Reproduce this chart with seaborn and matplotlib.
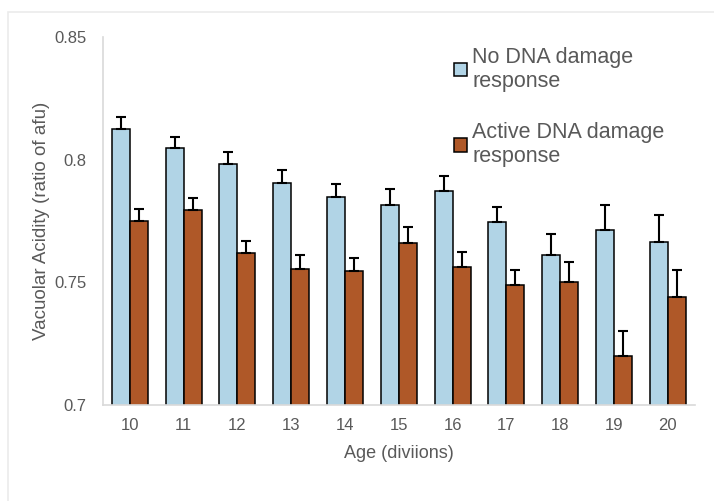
import seaborn as sns
import pandas as pd
import matplotlib.pyplot as plt
from matplotlib.patches import Rectangle

# values
ages = [10, 11, 12, 13, 14, 15, 16, 17, 18, 19, 20]
no_ddr = [0.8125, 0.8048, 0.7982, 0.7905, 0.7848, 0.7815, 0.7872, 0.7746, 0.7611, 0.7713, 0.7665]
no_ddr_err = [0.0049, 0.0045, 0.0049, 0.0053, 0.0053, 0.0065, 0.0062, 0.0061, 0.0088, 0.0102, 0.0110]
active_ddr = [0.7750, 0.7795, 0.7620, 0.7554, 0.7546, 0.7660, 0.7563, 0.7489, 0.7501, 0.7200, 0.7440]
active_ddr_err = [0.0049, 0.0049, 0.0049, 0.0057, 0.0053, 0.0066, 0.0061, 0.0061, 0.0082, 0.0102, 0.0110]

labels = ["No DNA damage\nresponse", "Active DNA damage\nresponse"]
colors = ["#B1D4E6", "#AF5828"]
text_gray = "#595959"

sns.set_style("white")
plt.rcParams['font.family'] = ['Liberation Sans', 'DejaVu Sans']

data = pd.DataFrame({
    "age": [str(a) for a in ages] * 2,
    "value": no_ddr + active_ddr,
    "group": [labels[0]] * len(ages) + [labels[1]] * len(ages),
})

fig = plt.figure(figsize=(7.14, 5.01), dpi=100)
ax = fig.add_axes([0.144, 0.1916, 0.829, 0.7345])

sns.barplot(data=data, x="age", y="value", hue="group", hue_order=labels,
            palette=colors, saturation=1, width=0.67, edgecolor="black",
            linewidth=1.1, errorbar=None, ax=ax)

# upward-only error bars, placed on the bars seaborn drew
for cont, errs in zip(ax.containers, [no_ddr_err, active_ddr_err]):
    xs = [p.get_x() + p.get_width() / 2 for p in cont.patches]
    ys = [p.get_height() for p in cont.patches]
    ax.errorbar(xs, ys, yerr=[[0] * len(errs), errs], fmt="none",
                ecolor="black", elinewidth=1.5, capsize=3.5, capthick=1.5)

ax.set_ylim(0.7, 0.85)
ax.set_yticks([0.7, 0.75, 0.8, 0.85])
ax.set_yticklabels(["0.7", "0.75", "0.8", "0.85"])
ax.set_xlim(-0.5, len(ages) - 0.5)
ax.tick_params(axis="both", length=0, labelsize=12, labelcolor=text_gray)
ax.tick_params(axis="y", pad=12)
ax.tick_params(axis="x", pad=9)
ax.set_xlabel("Age (diviions)", fontsize=13, color=text_gray, labelpad=9)
ax.set_ylabel("Vacuolar Acidity (ratio of afu)", fontsize=13.5, color=text_gray, labelpad=3)

for side in ["top", "right"]:
    ax.spines[side].set_visible(False)
for side in ["left", "bottom"]:
    ax.spines[side].set_color("#D9D9D9")
    ax.spines[side].set_linewidth(1.2)

handles, _ = ax.get_legend_handles_labels()
ax.legend(handles, labels, loc="upper left", bbox_to_anchor=(0.615, 0.937),
          bbox_transform=fig.transFigure, frameon=False, fontsize=15.5,
          labelcolor=text_gray, handlelength=0.6, handleheight=0.6,
          handletextpad=0.25, labelspacing=1.4, borderpad=0.2)

# faint frame around the chart area
fig.patches.append(Rectangle((0.011, -0.05), 1.1, 1.026, transform=fig.transFigure,
                             fill=False, edgecolor="#EBEBEB", linewidth=1.2))

fig.savefig("out.png", dpi=100)
